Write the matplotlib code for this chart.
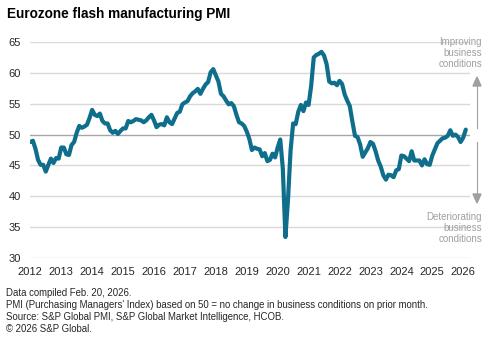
import numpy as np
import matplotlib.pyplot as plt

plt.rcParams['font.family'] = ['Liberation Sans', 'DejaVu Sans']

# monthly flash manufacturing PMI, Jan 2012 .. Feb 2026
pmi_2012 = [48.8, 49.0, 47.7, 45.9, 45.1, 45.1, 44.0, 45.1, 46.1, 45.4, 46.2, 46.1]
pmi_2013 = [47.9, 47.9, 46.8, 46.7, 48.3, 48.8, 50.3, 51.4, 51.1, 51.3, 51.6, 52.7]
pmi_2014 = [54.0, 53.2, 53.0, 53.4, 52.2, 51.8, 51.8, 50.7, 50.3, 50.6, 50.1, 50.6]
pmi_2015 = [51.0, 51.0, 52.2, 52.0, 52.2, 52.5, 52.4, 52.3, 52.0, 52.3, 52.8, 53.2]
pmi_2016 = [52.3, 51.2, 51.6, 51.7, 51.5, 52.8, 52.0, 51.7, 52.6, 53.5, 53.7, 54.9]
pmi_2017 = [55.2, 55.4, 56.2, 56.7, 57.0, 57.4, 56.6, 57.4, 58.1, 58.5, 60.1, 60.6]
pmi_2018 = [59.6, 58.6, 56.6, 56.2, 55.5, 54.9, 55.1, 54.6, 53.2, 52.0, 51.8, 51.4]
pmi_2019 = [50.5, 49.3, 47.5, 47.9, 47.7, 47.6, 46.5, 47.0, 45.7, 45.9, 46.9, 46.3]
pmi_2020 = [47.9, 49.2, 44.5, 33.4, 39.4, 47.4, 51.8, 51.7, 53.7, 54.8, 53.8, 55.2]
pmi_2021 = [54.8, 57.9, 62.5, 62.9, 63.1, 63.4, 62.8, 61.4, 58.6, 58.3, 58.4, 58.0]
pmi_2022 = [58.7, 58.2, 56.5, 55.5, 54.6, 52.1, 49.8, 49.6, 48.4, 46.4, 47.1, 47.8]
pmi_2023 = [48.8, 48.5, 47.3, 45.8, 44.8, 43.4, 42.7, 43.5, 43.4, 43.1, 44.2, 44.4]
pmi_2024 = [46.6, 46.5, 46.1, 45.7, 47.3, 45.8, 45.8, 45.8, 45.0, 46.0, 45.2, 45.1]
pmi_2025 = [46.6, 47.6, 48.6, 49.0, 49.4, 49.5, 49.8, 50.7, 49.8, 50.0, 49.6, 48.8]
pmi_2026 = [49.5, 50.8]

pmi = np.array(pmi_2012 + pmi_2013 + pmi_2014 + pmi_2015 + pmi_2016 + pmi_2017
               + pmi_2018 + pmi_2019 + pmi_2020 + pmi_2021 + pmi_2022 + pmi_2023
               + pmi_2024 + pmi_2025 + pmi_2026)
dates = 2012 + np.arange(len(pmi)) / 12.0

years = list(range(2012, 2027))
y_ticks = [30, 35, 40, 45, 50, 55, 60, 65]

footnotes = [
    "Data compiled Feb. 20, 2026.",
    "PMI (Purchasing Managers' Index) based on 50 = no change in business conditions on prior month.",
    "Source: S&P Global PMI, S&P Global Market Intelligence, HCOB.",
    "\u00a9 2026 S&P Global.",
]

W, H = 487, 340
fig = plt.figure(figsize=(W / 100, H / 100), dpi=100)

def fx(px):
    return px / W

def fy(py):
    return 1 - py / H

ax = fig.add_axes([fx(30), fy(258), fx(470) - fx(30), fy(42) - fy(258)])

for v in y_ticks:
    if v == 50:
        ax.axhline(v, color='#a6a6a6', lw=1.0, zorder=1)
    else:
        ax.axhline(v, color='#d9d9d9', lw=1.0, zorder=1)

ax.plot(dates, pmi, color='#0e6e8c', lw=3.0, solid_joinstyle='round',
        solid_capstyle='round', zorder=3)

ax.set_xlim(2011.99, 2026.22)
ax.set_ylim(30, 65)
ax.set_xticks(years)
ax.set_xticklabels([str(y) for y in years])
ax.set_yticks(y_ticks)
ax.tick_params(axis='both', length=0, labelsize=8, colors='#262626', pad=6.5)
for s in ax.spines.values():
    s.set_visible(False)

fig.text(fx(7), fy(14), "Eurozone flash manufacturing PMI", fontsize=9.8,
         fontweight='bold', va='center', ha='left', color='#000000')

# side annotation
grey = '#a0a0a0'
fig.text(fx(482), fy(53), "Improving\nbusiness\nconditions", fontsize=7,
         color=grey, ha='right', va='center', linespacing=1.1)
fig.text(fx(482), fy(228), "Deteriorating\nbusiness\nconditions", fontsize=7,
         color=grey, ha='right', va='center', linespacing=1.1)
fig.add_artist(plt.Line2D([fx(477), fx(477)], [fy(128), fy(84)], color=grey, lw=0.8))
fig.add_artist(plt.Line2D([fx(477), fx(477)], [fy(142), fy(196)], color=grey, lw=0.8))
fig.patches.append(plt.Polygon([[fx(473), fy(86)], [fx(481), fy(86)], [fx(477), fy(77)]],
                               closed=True, color=grey, transform=fig.transFigure))
fig.patches.append(plt.Polygon([[fx(473), fy(194)], [fx(481), fy(194)], [fx(477), fy(203)]],
                               closed=True, color=grey, transform=fig.transFigure))

for i, line in enumerate(footnotes):
    fig.text(fx(6), fy(293 + 12 * i), line, fontsize=6.9, color='#262626',
             ha='left', va='center')

fig.savefig('out.png', dpi=100)
